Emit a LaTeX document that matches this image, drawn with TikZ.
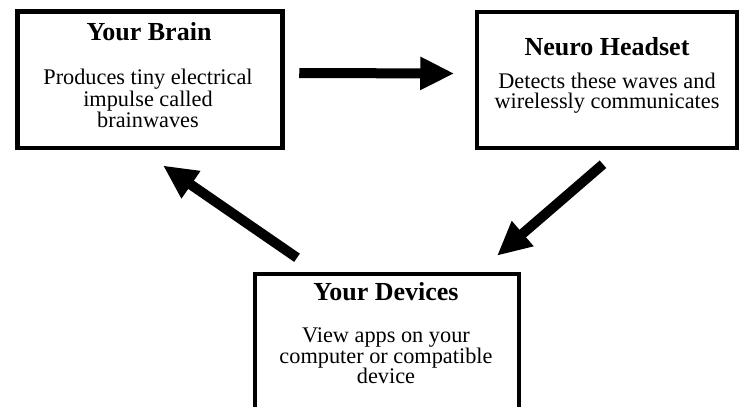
\documentclass[tikz,border=0pt]{standalone}
\usepackage{fontspec}
\setmainfont{Liberation Serif}
\usepackage{tikz}
\usetikzlibrary{arrows.meta}
\tikzstyle{box}=[shape=rectangle,draw,fill=white,line width=4.5pt,inner sep=0pt]
\tikzstyle{title}=[font=\fontsize{26}{29}\selectfont\bfseries,anchor=base,inner sep=0pt]
\tikzstyle{body}=[font=\fontsize{22.3}{25}\selectfont,anchor=base,inner sep=0pt,text height=14pt,text depth=4pt]
\tikzstyle{to}=[-{Triangle[length=34pt,width=31pt]},line width=10pt]

\begin{document}
\begin{tikzpicture}[x=1pt,y=-1pt]
        \clip (0,0) rectangle (740,407);
        \useasboundingbox (0,0) rectangle (740,407);
        % boxes
        \node[box,minimum width=265pt,minimum height=136.5pt] (brain) at (150, 79.5) {};
        \node[box,minimum width=260pt,minimum height=136pt] (headset) at (607, 80) {};
        \node[box,minimum width=264pt,minimum height=200pt] (devices) at (387, 374) {};
        % texts
        \node[title] (brainT) at (149, 40) {Your Brain};
        \node[body] (brainA) at (148, 84) {Produces tiny electrical};
        \node[body] (brainB) at (148, 106) {impulse called};
        \node[body] (brainC) at (148, 127) {brainwaves};
        \node[title] (headsetT) at (607, 55) {Neuro Headset};
        \node[body,text height=,text depth=,align=center,font=\fontsize{22.3}{20}\selectfont] (headsetA) at (607, 108) {Detects these waves and\\wirelessly communicates};
        \node[title] (devicesT) at (386, 300) {Your Devices};
        \node[body] (devicesA) at (386, 342) {View apps on your};
        \node[body] (devicesB) at (386, 363) {computer or compatible};
        \node[body] (devicesC) at (386, 383) {device};
        % arrows
        \draw[to] ([xshift=14.5pt,yshift=6.5pt]brain.east) -- ([xshift=-20.5pt,yshift=6.5pt]headset.west);
        \draw[to] ([xshift=-4pt,yshift=-14pt]headset.south) -- ([xshift=110pt,yshift=16pt]devices.north);
        \draw[to] ([xshift=-90pt,yshift=14pt]devices.north) -- ([xshift=13pt,yshift=-15.5pt]brain.south);
    \end{tikzpicture}
\end{document}
